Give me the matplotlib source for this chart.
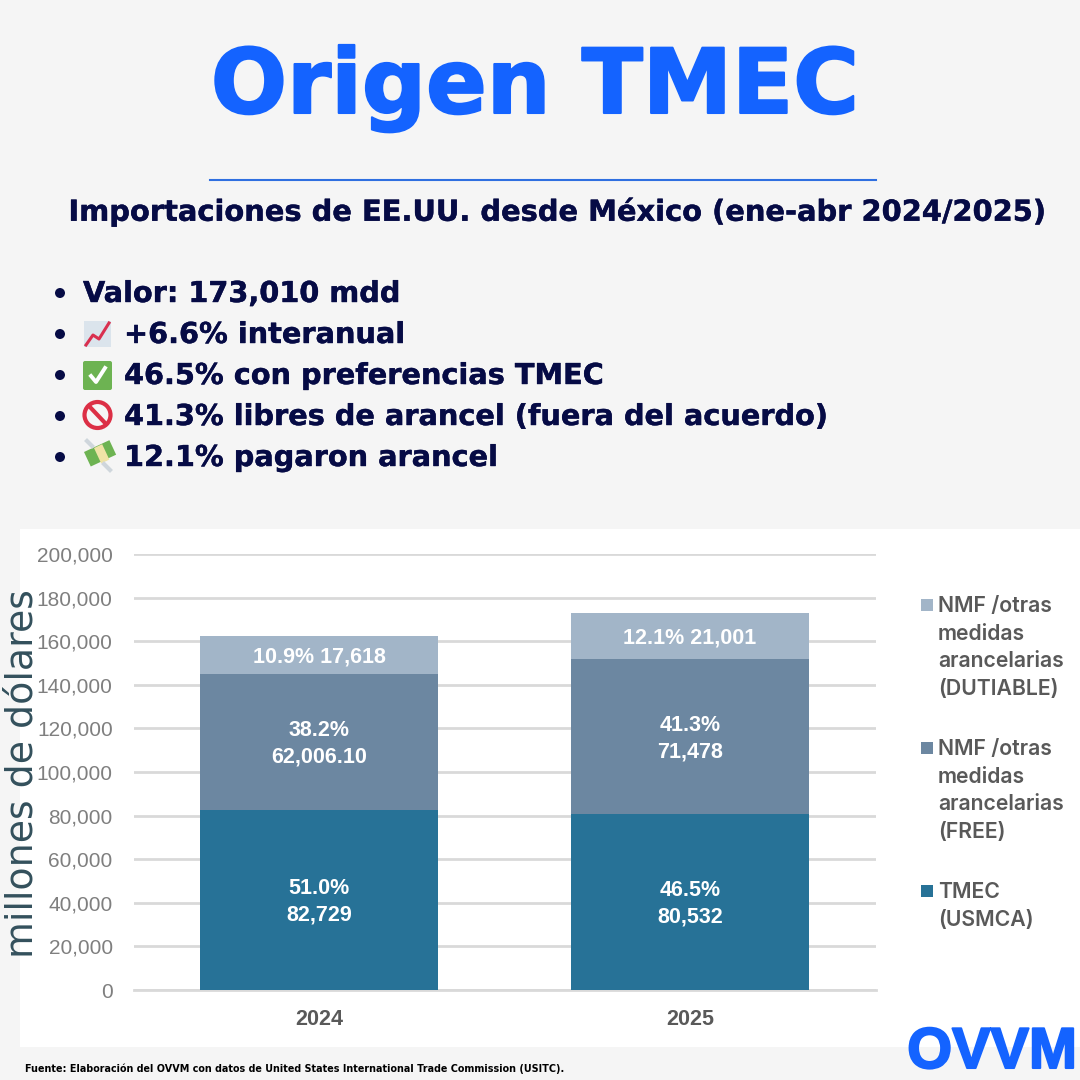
import matplotlib
matplotlib.use("Agg")
import matplotlib.pyplot as plt
import matplotlib.patheffects as pe
from matplotlib.patches import Rectangle, Circle, FancyBboxPatch
from matplotlib.ticker import FuncFormatter

# data
years = ["2024", "2025"]
tmec = [82729, 80532]
free = [62006.10, 71478]
dutiable = [17618, 21001]
tmec_labels = ["51.0%\n82,729", "46.5%\n80,532"]
free_labels = ["38.2%\n62,006.10", "41.3%\n71,478"]
dutiable_labels = ["10.9% 17,618", "12.1% 21,001"]
y_ticks = [0, 20000, 40000, 60000, 80000, 100000, 120000, 140000, 160000, 180000, 200000]
legend_names = ["NMF /otras\nmedidas\narancelarias\n(DUTIABLE)", "NMF /otras\nmedidas\narancelarias\n(FREE)", "TMEC\n(USMCA)"]
bullets = ["Valor: 173,010 mdd", "+6.6% interanual", "46.5% con preferencias TMEC",
           "41.3% libres de arancel (fuera del acuerdo)", "12.1% pagaron arancel"]

BG = "#f5f5f5"
BLUE = "#1463ff"
NAVY = "#060b45"
C_TMEC = "#277297"
C_FREE = "#6c87a1"
C_DUT = "#a2b5c8"

fig = plt.figure(figsize=(10.8, 10.8), dpi=100, facecolor=BG)

# overlay in pixel coords for the poster parts
bg = fig.add_axes([0, 0, 1, 1])
bg.set_xlim(0, 1080)
bg.set_ylim(1080, 0)
bg.axis("off")
bg.add_patch(Rectangle((20, 529), 1060, 518, fc="white", ec="none"))

bg.text(535, 113, "Origen TMEC", color=BLUE, fontsize=64.5, fontweight="bold", family="DejaVu Sans",
        ha="center", va="baseline",
        path_effects=[pe.withStroke(linewidth=1.5, foreground=BLUE)])
bg.plot([210, 876], [180, 180], color="#2f6fe0", lw=1.5)
bg.text(556, 212, "Importaciones de EE.UU. desde México (ene-abr 2024/2025)", color=NAVY,
        fontsize=20.8, fontweight="bold", family="DejaVu Sans", ha="center", va="center",
        path_effects=[pe.withStroke(linewidth=0.3, foreground=NAVY)])

# bullet list
row_y = [294, 335, 376, 417, 458]
text_x = [83, 124, 124, 124, 124]
for y, x, txt in zip(row_y, text_x, bullets):
    bg.add_patch(Circle((60, y - 1), 5, fc=NAVY, ec="none"))
    bg.text(x, y, txt, color=NAVY, fontsize=20.7, fontweight="bold", family="DejaVu Sans",
            ha="left", va="center", path_effects=[pe.withStroke(linewidth=0.3, foreground=NAVY)])

# emoji stand-ins
bg.add_patch(Rectangle((84, 321), 27, 26, fc="#dbe4ec", ec="none"))
bg.plot([86, 93, 99, 109], [345, 335, 339, 323], color="#d9304f", lw=2.2)
bg.add_patch(FancyBboxPatch((84, 362), 27, 27, boxstyle="round,pad=1,rounding_size=2", fc="#6db352", ec="none"))
bg.plot([91, 96, 105], [376, 382, 368], color="white", lw=2.8)
bg.add_patch(Circle((97.5, 415), 13, fc="none", ec="#dc2f45", lw=3))
bg.plot([89, 106], [406, 424], color="#dc2f45", lw=3)
bg.add_patch(Rectangle((84, 452), 28, 16, angle=-25, fc="#6db352", ec="none"))
bg.add_patch(Rectangle((94, 448), 9, 17, angle=-25, fc="#efe3a6", ec="none"))
bg.plot([87, 92], [441, 446], color="#cfd6dc", lw=3)
bg.plot([104, 110], [464, 470], color="#cfd6dc", lw=3)

# chart
ax = fig.add_axes([133.5 / 1080, (1080 - 990) / 1080, 742 / 1080, 436 / 1080])
ax.patch.set_alpha(0)
x = list(range(len(years)))
w = 0.644
ax.bar(x, tmec, w, color=C_TMEC, zorder=3)
ax.bar(x, free, w, bottom=tmec, color=C_FREE, zorder=3)
bottoms = [a + b for a, b in zip(tmec, free)]
ax.bar(x, dutiable, w, bottom=bottoms, color=C_DUT, zorder=3)

label_style = dict(color="white", fontsize=15.5, fontweight="bold", family="Liberation Sans",
                   ha="center", va="center", zorder=4, linespacing=1.35,
                   xytext=(0, -1.4), textcoords="offset points")
for i in x:
    ax.annotate(tmec_labels[i], (i, tmec[i] / 2), **label_style)
    ax.annotate(free_labels[i], (i, tmec[i] + free[i] / 2), **label_style)
    ax.annotate(dutiable_labels[i], (i, bottoms[i] + dutiable[i] / 2), **label_style)

ax.set_xlim(-0.5, 1.5)
ax.set_ylim(0, 200000)
ax.set_yticks(y_ticks)
ax.yaxis.set_major_formatter(FuncFormatter(lambda v, p: f"{int(v):,}"))
ax.set_xticks(x, years)
ax.grid(axis="y", color="#d9d9d9", lw=2, zorder=0)
ax.set_axisbelow(True)
for s in ["top", "right", "left"]:
    ax.spines[s].set_visible(False)
ax.spines["bottom"].set_color("#d9d9d9")
ax.spines["bottom"].set_linewidth(2)
ax.tick_params(length=0)
ax.tick_params(axis="y", labelsize=15, labelcolor="#7f7f7f", pad=15)
ax.tick_params(axis="x", labelsize=15.5, labelcolor="#595959", pad=14)
for lab in ax.get_yticklabels():
    lab.set_family("Liberation Sans")
for lab in ax.get_xticklabels():
    lab.set_family("Liberation Sans")
    lab.set_fontweight("bold")

bg.text(23, 774, "millones de dólares", color="#33505c", fontsize=27.3, family="DejaVu Sans",
        rotation=90, ha="center", va="center", zorder=5)

# legend
swatch_y = [605, 748, 891]
for y, name, c in zip(swatch_y, legend_names, [C_DUT, C_FREE, C_TMEC]):
    bg.add_patch(Rectangle((921, y - 6), 12, 12, fc=c, ec="none"))
    bg.text(938, y - 9, name, color="#595959", fontsize=15.3, fontweight="semibold", family="Inter",
            ha="left", va="top", linespacing=1.48)

bg.text(25, 1069, "Fuente: Elaboración del OVVM con datos de United States International Trade Commission (USITC).",
        color="black", fontsize=6.95, fontweight="bold", family="DejaVu Sans", ha="left", va="center")

bg.text(992, 1068, "OVVM", color=BLUE, fontsize=41.5, fontweight="bold", family="Liberation Sans",
        ha="center", va="baseline", path_effects=[pe.withStroke(linewidth=1.5, foreground=BLUE)])

fig.savefig("out.png", dpi=100, facecolor=BG)
